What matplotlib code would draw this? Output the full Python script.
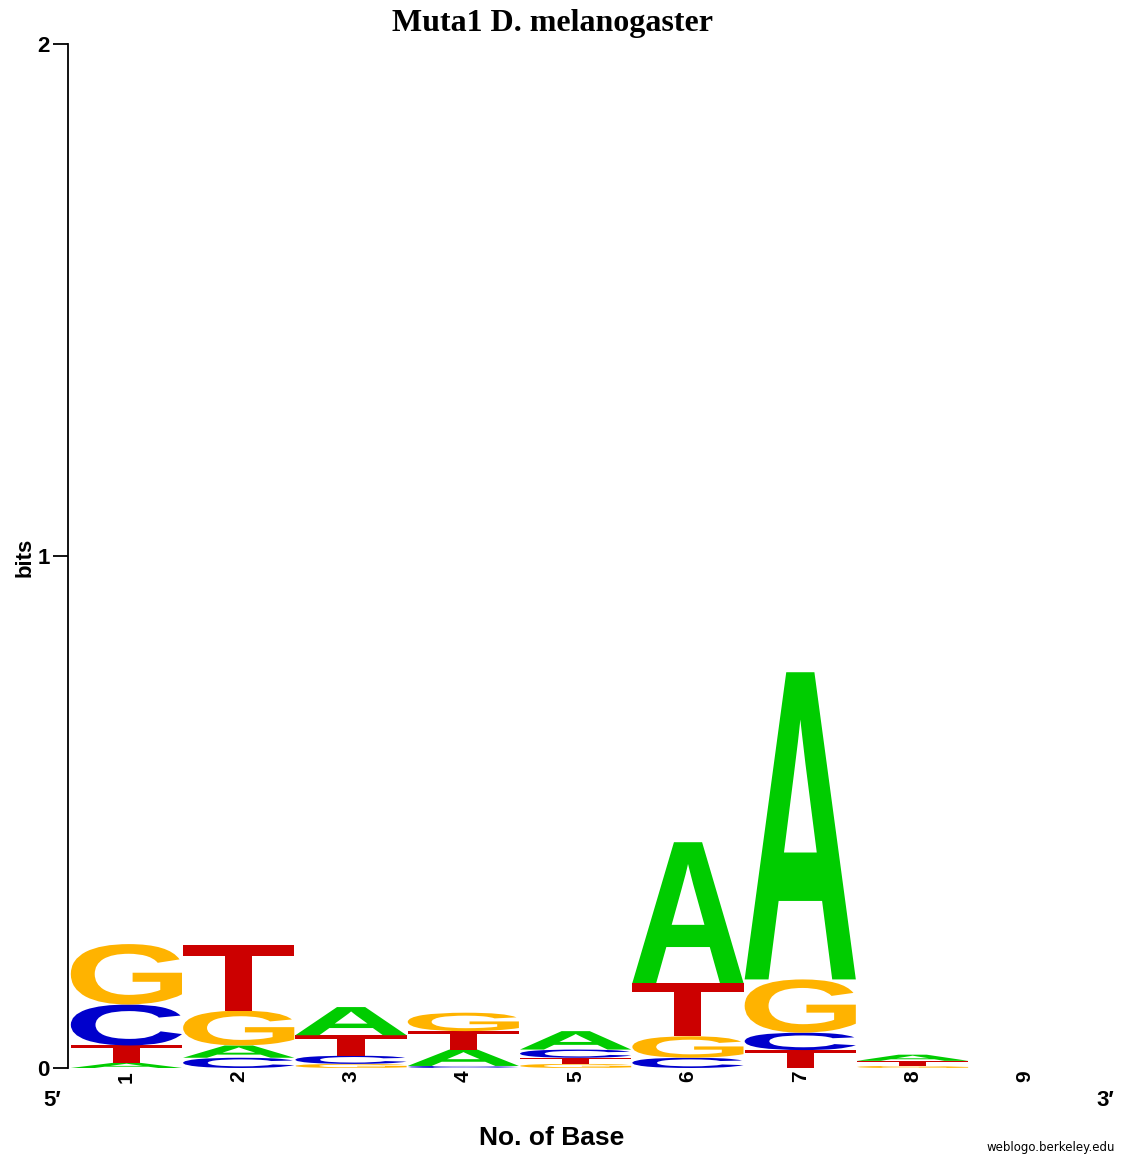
import numpy as np
import matplotlib
matplotlib.use("Agg")
import matplotlib.pyplot as plt
from matplotlib.textpath import TextPath
from matplotlib.patches import PathPatch
from matplotlib.font_manager import FontProperties
from matplotlib.transforms import Affine2D


# sequence logo data: per position, letters from bottom to top and their heights (bits)
positions = [1, 2, 3, 4, 5, 6, 7, 8, 9]
stack_letters = [
    ["A", "T", "C", "G"],
    ["C", "A", "G", "T"],
    ["G", "C", "T", "A"],
    ["C", "A", "T", "G"],
    ["G", "T", "C", "A"],
    ["C", "G", "T", "A"],
    ["T", "C", "G", "A"],
    ["G", "T", "A"],
    [],
]
stack_heights = [
    [0.010, 0.034, 0.080, 0.118],
    [0.020, 0.024, 0.068, 0.128],
    [0.008, 0.016, 0.040, 0.055],
    [0.004, 0.032, 0.036, 0.036],
    [0.008, 0.012, 0.016, 0.036],
    [0.020, 0.042, 0.104, 0.275],
    [0.035, 0.034, 0.104, 0.600],
    [0.004, 0.010, 0.012],
    [],
]
colours = {"A": "#00cc00", "C": "#0000cc", "G": "#ffb300", "T": "#cc0000"}
yticks = [0, 1, 2]

fig = plt.figure(figsize=(11.25, 11.57), dpi=100)
ax = fig.add_axes([68 / 1125, 89 / 1157, (1081 - 68) / 1125, (1068 - 44) / 1157])

fp = FontProperties(family="Liberation Sans", weight="bold")
glyphs = {}
for ch in colours:
    p = TextPath((0, 0), ch, size=1, prop=fp)
    glyphs[ch] = (p, p.get_extents())


def draw_letter(ch, xc, y0, w, h):
    p, bb = glyphs[ch]
    tr = (Affine2D().translate(-bb.x0, -bb.y0)
          .scale(w / bb.width, h / bb.height)
          .translate(xc - w / 2, y0))
    ax.add_patch(PathPatch(p, transform=tr + ax.transData,
                           facecolor=colours[ch], edgecolor="none"))


for pos, letters, heights in zip(positions, stack_letters, stack_heights):
    base = 0.0
    for ch, h in zip(letters, heights):
        draw_letter(ch, pos, base, 0.99, h)
        base += h

ax.set_xlim(0.48, 9.5)
ax.set_ylim(0, 2)
for s in ["top", "right", "bottom"]:
    ax.spines[s].set_visible(False)
ax.spines["left"].set_linewidth(1.3)
ax.set_yticks(yticks)
ax.set_yticklabels([str(t) for t in yticks], fontsize=16, fontweight="bold",
                   family="Liberation Sans")
ax.tick_params(axis="y", direction="out", length=11, width=1.3, pad=2)
ax.set_xticks(positions)
ax.set_xticklabels([str(p) for p in positions], rotation=90, fontsize=15,
                   fontweight="bold", family="Liberation Sans")
ax.tick_params(axis="x", length=0, pad=2)

fig.text(552 / 1125, 1 - 24 / 1157, "Muta1 D. melanogaster", ha="center", va="center",
         fontsize=23, fontweight="bold", family="Liberation Serif")
fig.text(25 / 1125, 1 - 557 / 1157, "bits", rotation=90, ha="center", va="center",
         fontsize=16, fontweight="bold", family="Liberation Sans")
fig.text(552 / 1125, 1 - 1138 / 1157, "No. of Base", ha="center", va="center",
         fontsize=19, fontweight="bold", family="Liberation Sans")
fig.text(52 / 1125, 1 - 1100 / 1157, "5\u2032", ha="center", va="center",
         fontsize=16, fontweight="bold", family=["Liberation Sans", "DejaVu Sans"])
fig.text(1105 / 1125, 1 - 1100 / 1157, "3\u2032", ha="center", va="center",
         fontsize=16, fontweight="bold", family=["Liberation Sans", "DejaVu Sans"])
fig.text(1115 / 1125, 1 - 1147 / 1157, "weblogo.berkeley.edu", ha="right", va="center",
         fontsize=8.5, family="Liberation Sans Narrow")

fig.savefig("out.png", dpi=100)
